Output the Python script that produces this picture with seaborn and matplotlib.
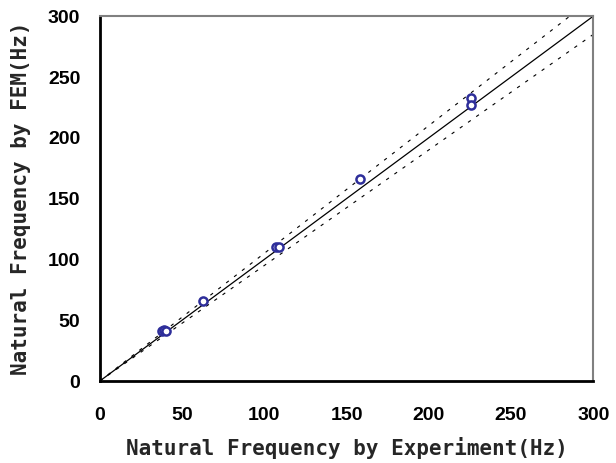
import numpy as np
import pandas as pd
import matplotlib
matplotlib.use('Agg')
import matplotlib.pyplot as plt
import seaborn as sns

# measured vs computed natural frequencies (Hz)
exp_hz = [38, 39, 40, 63, 107, 109, 158, 226, 226]
fem_hz = [41, 42, 41, 66, 110, 110, 166, 233, 227]

ref_x = [0, 300]
upper_ratio = 1.05
lower_ratio = 0.95

sns.set_style('white')
plt.rcParams['font.family'] = ['Liberation Sans', 'DejaVu Sans']
plt.rcParams['font.weight'] = 'bold'

df = pd.DataFrame({'exp': exp_hz, 'fem': fem_hz})

fig = plt.figure(figsize=(6.16, 4.63), dpi=100)
ax = fig.add_axes([0.162, 0.177, 0.801, 0.788])

# reference lines y=x and +-5%
ax.plot(ref_x, ref_x, color='black', lw=0.9, zorder=2)
ax.plot(ref_x, [v * upper_ratio for v in ref_x], color='black', lw=0.8,
        ls=(0, (3, 6)), zorder=2)
ax.plot(ref_x, [v * lower_ratio for v in ref_x], color='black', lw=0.8,
        ls=(0, (3, 6)), zorder=2)

sns.scatterplot(data=df, x='exp', y='fem', ax=ax, marker='o', s=34,
                facecolor='white', edgecolor='#2e2e9a', linewidth=1.8,
                zorder=3)

ax.set_xlim(0, 300)
ax.set_ylim(0, 300)
ax.set_xticks(range(0, 301, 50))
ax.set_yticks(range(0, 301, 50))
ax.tick_params(direction='in', length=5, width=1.5, labelsize=14,
               top=False, right=False, colors='black')
ax.tick_params(axis='y', pad=14)
ax.tick_params(axis='x', pad=19)
for lab in ax.get_xticklabels() + ax.get_yticklabels():
    lab.set_fontweight('bold')

for side in ['left', 'bottom']:
    ax.spines[side].set_color('black')
    ax.spines[side].set_linewidth(2)
for side in ['top', 'right']:
    ax.spines[side].set_color('#808080')
    ax.spines[side].set_linewidth(1.5)

lab_font = dict(family='DejaVu Sans Mono', fontsize=15, fontweight='bold')
ax.set_xlabel('Natural Frequency by Experiment(Hz)', labelpad=9, **lab_font)
ax.set_ylabel('Natural Frequency by FEM(Hz)', labelpad=12, **lab_font)

fig.savefig('out.png', dpi=100)
